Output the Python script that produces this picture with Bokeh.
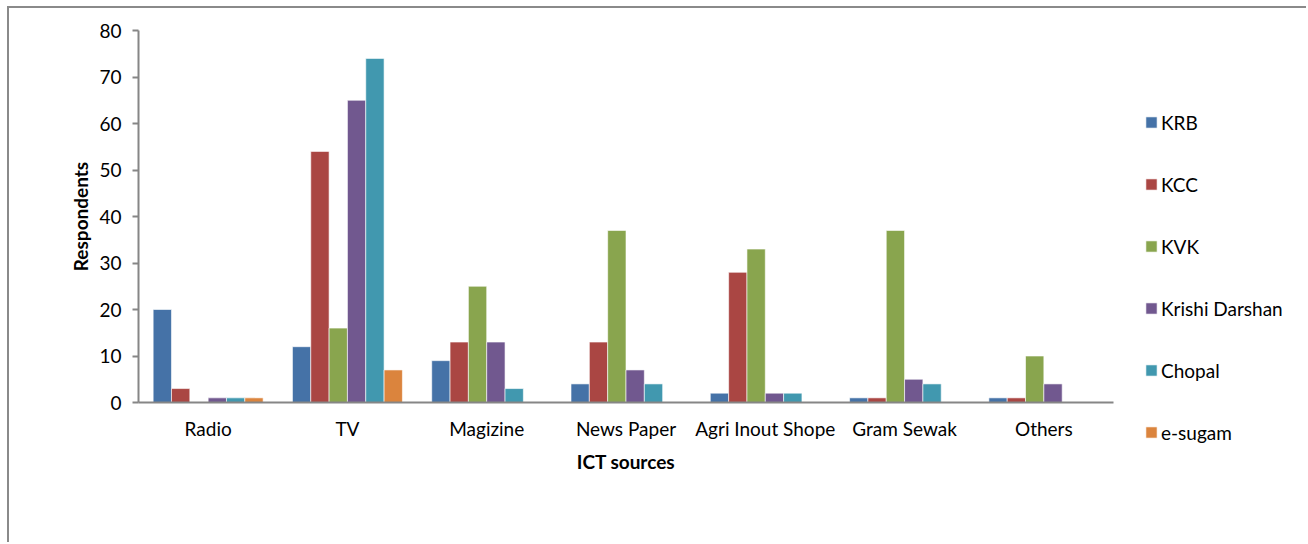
import math
from bokeh.plotting import figure
from bokeh.models import ColumnDataSource, Range1d, Legend, LegendItem, FixedTicker, Label
from bokeh.transform import dodge
from bokeh.embed import file_html
from bokeh.resources import INLINE

categories = ["Radio", "TV", "Magizine", "News Paper", "Agri Inout Shope", "Gram Sewak", "Others"]
series_names = ["KRB", "KCC", "KVK", "Krishi Darshan", "Chopal", "e-sugam"]
krb = [20, 12, 9, 4, 2, 1, 1]
kcc = [3, 54, 13, 13, 28, 1, 1]
kvk = [0, 16, 25, 37, 33, 37, 10]
krishi_darshan = [1, 65, 13, 7, 2, 5, 4]
chopal = [1, 74, 3, 4, 2, 4, 0]
e_sugam = [1, 7, 0, 0, 0, 0, 0]
series_values = [krb, kcc, kvk, krishi_darshan, chopal, e_sugam]
colors = ["#4572A7", "#AA4643", "#89A54E", "#71588F", "#4198AF", "#DB843D"]
y_ticks = [0, 10, 20, 30, 40, 50, 60, 70, 80]
x_title = "ICT sources"
y_title = "Respondents"

FONT = "Lato"
FS = "19px"
W, H = 1299, 536
# plot-area geometry in canvas pixels
AX_LEFT, AX_RIGHT = 129, 1104     # category axis extent
AX_TOP, AX_BOTTOM = 22, 394       # value axis extent (80 .. 0)

n = len(categories)
y_max = 80
px_y = (AX_BOTTOM - AX_TOP) / y_max
px_x = (AX_RIGHT - AX_LEFT) / n
y_range = Range1d(-(H - AX_BOTTOM) / px_y, y_max + AX_TOP / px_y)
x_range = Range1d(-AX_LEFT / px_x, (W - AX_LEFT) / px_x)

p = figure(x_range=x_range, y_range=y_range,
           width=W, height=H, output_backend="svg", toolbar_location=None,
           min_border_left=0, min_border_right=0, min_border_top=0, min_border_bottom=0)
p.margin = (6, 0, 0, 7)
p.styles = {"border-left": "2px solid #8a8a8a", "border-top": "2px solid #8a8a8a"}
p.outline_line_color = None
p.xgrid.grid_line_color = None
p.ygrid.grid_line_color = None

centers = [k + 0.5 for k in range(n)]
bar_w = 0.1316
items = []
for i, (name, vals, col) in enumerate(zip(series_names, series_values, colors)):
    xs = [c for c, v in zip(centers, vals) if v > 0]
    vs = [v for v in vals if v > 0]
    src = ColumnDataSource(dict(x=xs, val=vs))
    r = p.vbar(x=dodge("x", (i - 2.5) * bar_w), top="val", width=bar_w,
               source=src, fill_color=col, line_color="white", line_alpha=0.6, line_width=1)
    items.append(LegendItem(label=name, renderers=[r]))

legend = Legend(items=items, location=(1135, 100.5), orientation="vertical",
                glyph_width=14, glyph_height=14, label_height=23, spacing=39,
                label_standoff=3, padding=0, margin=0, border_line_color=None,
                background_fill_alpha=0, label_text_font=FONT, label_text_font_size=FS,
                label_text_color="#000000")
p.add_layout(legend)

# y axis
p.yaxis.fixed_location = 0
p.yaxis.ticker = y_ticks
p.yaxis.bounds = (0, y_max)
p.yaxis.major_label_text_font = FONT
p.yaxis.major_label_text_font_size = FS
p.yaxis.major_label_text_color = "#000000"
p.yaxis.axis_line_color = "#868686"
p.yaxis.axis_line_width = 2
p.yaxis.major_tick_line_color = "#868686"
p.yaxis.major_tick_line_width = 2
p.yaxis.major_tick_out = 6
p.yaxis.major_tick_in = 0
p.yaxis.minor_tick_line_color = None
p.yaxis.major_label_standoff = 11

# x axis
p.xaxis.fixed_location = 0
p.xaxis.bounds = (0, n)
p.xaxis.ticker = FixedTicker(ticks=centers)
p.xaxis.major_label_overrides = {c: cat for c, cat in zip(centers, categories)}
p.xaxis.major_label_text_font = FONT
p.xaxis.major_label_text_font_size = FS
p.xaxis.major_label_text_color = "#000000"
p.xaxis.axis_line_color = "#868686"
p.xaxis.axis_line_width = 2
p.xaxis.major_tick_line_color = None
p.xaxis.major_tick_out = 0
p.xaxis.major_tick_in = 0
p.xaxis.minor_tick_line_color = None
p.xaxis.major_label_standoff = 14

# axis titles
p.add_layout(Label(x=n / 2, y=H - 453, x_units="data", y_units="screen", text=x_title,
                   text_font=FONT, text_font_size=FS, text_font_style="bold",
                   text_color="#000000", text_align="center", text_baseline="middle"))
p.add_layout(Label(x=71, y=y_max / 2, x_units="screen", y_units="data", text=y_title,
                   angle=math.pi / 2, text_font=FONT, text_font_size=FS, text_font_style="bold",
                   text_color="#000000", text_align="center", text_baseline="middle"))

open("out.html", "w").write(file_html(p, INLINE))
